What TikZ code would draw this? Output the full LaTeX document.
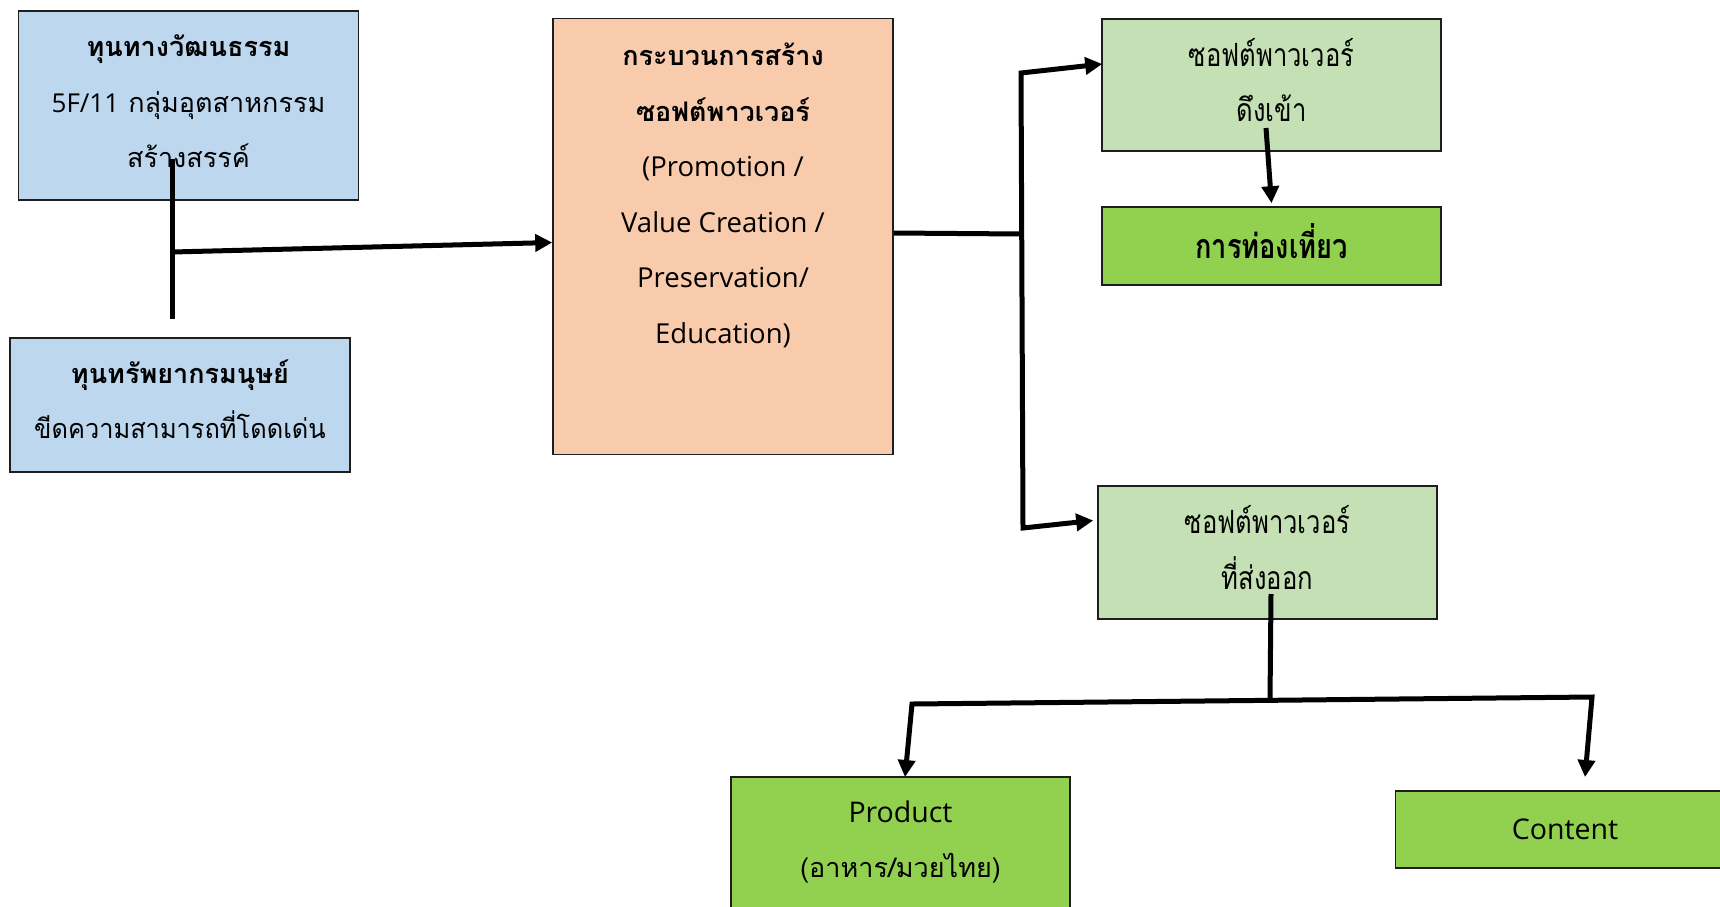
\documentclass[tikz,border=0pt]{standalone}
\usepackage{fontspec}
\setmainfont[Script=Thai]{Loma}
\newfontfamily\condfont[Script=Thai,FakeStretch=0.8]{Loma}
\newfontfamily\narrowfont[Script=Thai,FakeStretch=0.94]{Loma}
\newfontfamily\latinfont{Open Sans}
\usetikzlibrary{arrows.meta}
\definecolor{cblue}{HTML}{BDD7EE}
\definecolor{cpeach}{HTML}{F8CBAD}
\definecolor{clgreen}{HTML}{C5E0B4}
\definecolor{cgreen}{HTML}{92D050}
\definecolor{cborder}{HTML}{1E1E1E}
\tikzset{
  box/.style={draw=cborder, line width=1.6pt, minimum width=339pt, inner sep=0pt},
  txt/.style={align=center, inner sep=0pt, font=\fontsize{27}{55.5}\selectfont},
  condtxt/.style={txt, font=\condfont\fontsize{32}{55.5}\selectfont},
  lattxt/.style={txt, font=\latinfont\fontsize{28.5}{55.5}\selectfont},
  conn/.style={line width=5pt, black},
  tip/.style={-{Triangle[length=17pt,width=17pt]}},
  tips/.style={{Triangle[length=17pt,width=17pt]}-{Triangle[length=17pt,width=17pt]}},
}
\begin{document}
\begin{tikzpicture}[x=1pt,y=-1pt]
\useasboundingbox (0,0) rectangle (1720,906);
\clip (0,0) rectangle (1720,906);
% boxes
\node[box, fill=cblue, minimum width=340pt, minimum height=189pt] (A) at (188.5,105.5) {};
\node[txt] (At) at ([yshift=4pt]A.center)
  {\textbf{ทุนทางวัฒนธรรม}\\{\latinfont\fontsize{26}{55.5}\selectfont 5F/11} กลุ่มอุตสาหกรรม\\สร้างสรรค์};
\node[box, fill=cblue, minimum width=340pt, minimum height=134pt] (B) at (180,405) {};
\node[txt] (Bt) at ([yshift=6pt]B.center)
  {\textbf{ทุนทรัพยากรมนุษย์}\\{\narrowfont ขีดความสามารถที่โดดเด่น}};
\node[box, fill=cpeach, minimum width=340pt, minimum height=436pt] (C) at (723,236.5) {};
\node[txt, anchor=north] (Ct) at (723,43)
  {\textbf{กระบวนการสร้าง}\\\textbf{ซอฟต์พาวเวอร์}\\{\latinfont\fontsize{27.5}{55.5}\selectfont(Promotion /}\\{\latinfont\fontsize{27.5}{55.5}\selectfont Value Creation /}\\{\latinfont\fontsize{27.5}{55.5}\selectfont Preservation/}\\{\latinfont\fontsize{27.5}{55.5}\selectfont Education)}};
\node[box, fill=clgreen, minimum height=132pt] (D) at (1271.5,85) {};
\node[condtxt] (Dt) at ([yshift=5pt]D.center) {ซอฟต์พาวเวอร์\\ดึงเข้า};
\node[box, fill=cgreen, minimum height=78pt] (E) at (1271.5,246) {};
\node[condtxt, font=\condfont\fontsize{34}{55.5}\selectfont] (Et) at ([yshift=5pt]E.center) {\textbf{การท่องเที่ยว}};
\node[box, fill=clgreen, minimum height=133pt] (F) at (1267.5,552.5) {};
\node[condtxt] (Ft) at ([yshift=5pt]F.center) {ซอฟต์พาวเวอร์\\ที่ส่งออก};
\node[box, fill=cgreen, minimum height=134pt] (G) at (900.5,844) {};
\node[txt] (Gt) at ([yshift=2pt]G.center) {{\latinfont\fontsize{28.5}{55.5}\selectfont Product}\\(อาหาร/มวยไทย)};
\node[box, fill=cgreen, minimum height=77pt] (H) at (1565,829.5) {};
\node[lattxt] (Ht) at (H.center) {Content};
% connectors
\coordinate (a1) at (172,159);
\coordinate (a2) at (172,319);
\coordinate (aj) at (172,252);
\draw[conn] (a1) -- (a2);
\draw[conn, tip] (aj) -- ([yshift=-6pt]C.west);
\coordinate (t1) at (1021,73);
\coordinate (t2) at (1023,528);
\coordinate (tm) at (1022,234);
\draw[conn] (C.east |- 0,233) -- (tm);
\draw[conn, tips] ([xshift=1pt,yshift=21pt]D.west) -- (t1) -- (t2) -- ([xshift=-4pt,yshift=32pt]F.west);
\coordinate (d1) at (1266,128);
\draw[conn, tip] (d1) -- ([yshift=3pt]E.north);
\coordinate (f1) at (1271,594);
\coordinate (fj) at (1270,700);
\draw[conn] (f1) -- (fj);
\coordinate (b1) at (912,704);
\coordinate (b2) at (1592,697);
\draw[conn, tips] ([xshift=4.5pt]G.north |- 0,777) -- (b1) -- (b2) -- ([xshift=20pt]H.north |- 0,777);
\end{tikzpicture}
\end{document}
